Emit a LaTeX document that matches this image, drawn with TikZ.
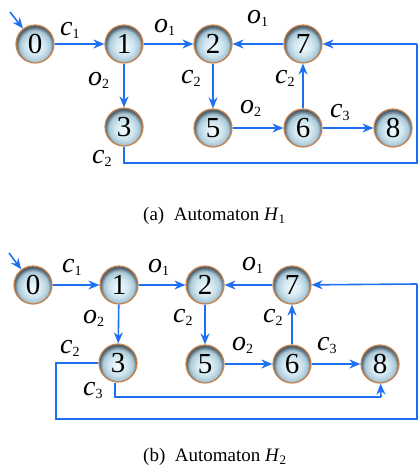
\documentclass[tikz,border=0pt]{standalone}
\usepackage{fontspec}
\setmainfont{Liberation Serif}
\usetikzlibrary{arrows.meta,shadings}
\definecolor{edgeblue}{RGB}{30,112,240}
\definecolor{ringbrown}{RGB}{200,132,76}
\definecolor{ballin}{RGB}{246,252,254}
\definecolor{ballmid}{RGB}{205,228,238}
\definecolor{ballmidb}{RGB}{172,200,214}
\definecolor{ballrim}{RGB}{112,136,150}
\definecolor{balledge}{RGB}{78,96,108}
\pgfdeclareradialshading{glassball}{\pgfpoint{0bp}{-4bp}}{%
  color(0bp)=(ballin); color(13bp)=(ballmid); color(20bp)=(ballmidb);
  color(23bp)=(ballrim); color(25bp)=(balledge); color(50bp)=(balledge)}
% event label: italic letter with a lowered upright index
\newcommand{\evlab}[2]{{\fontsize{28}{28}\selectfont\itshape #1}\raisebox{-3.5pt}{\fontsize{14}{14}\selectfont #2}}
\tikzset{
  x=1pt,y=-1pt,
  state/.style={circle,minimum size=38pt,inner sep=0pt,draw=ringbrown,line width=1.2pt,
    shading=glassball,font=\fontsize{29}{29}\selectfont},
  tr/.style={draw=edgeblue,line width=1.6pt,-{Stealth[length=11pt,width=9pt]}},
  ln/.style={draw=edgeblue,line width=1.6pt},
  lab/.style={anchor=base west,inner sep=0pt},
  captext/.style={anchor=base west,inner sep=0pt,font=\fontsize{19}{19}\selectfont}
}
\begin{document}
\begin{tikzpicture}
\useasboundingbox (0,0) rectangle (419,469);
% ---------- automaton H1 ----------
\node[state] (a0) at (35,44) {0};
\node[state] (a1) at (124,44) {1};
\node[state] (a2) at (213,44) {2};
\node[state] (a7) at (303,44) {7};
\node[state] (a3) at (124,127) {3};
\node[state] (a5) at (213,128) {5};
\node[state] (a6) at (303,128) {6};
\node[state] (a8) at (393,128) {8};
\coordinate (as) at (10,12);
\coordinate (ab1) at (124,163);
\coordinate (ab2) at (417,163);
\coordinate (ab3) at (417,44);
\draw[tr] (as) -- (a0);
\draw[tr] (a0) -- (a1);
\draw[tr] (a1) -- (a2);
\draw[tr] (a1) -- (a3);
\draw[tr] (a2) -- (a5);
\draw[tr] (a5) -- (a6);
\draw[tr] (a6) -- (a8);
\draw[tr] (a6) -- (a7);
\draw[tr] (a7) -- (a2);
\draw[ln] (a3) -- (ab1) -- (ab2) -- (ab3);
\draw[tr] (ab3) -- (a7);
\node[lab] (la1) at (60,35) {\evlab{c}{1}};
\node[lab] (la2) at (154,32) {\evlab{o}{1}};
\node[lab] (la3) at (88,85) {\evlab{o}{2}};
\node[lab] (la4) at (181,83) {\evlab{c}{2}};
\node[lab] (la5) at (92,163) {\evlab{c}{2}};
\node[lab] (la6) at (247,23) {\evlab{o}{1}};
\node[lab] (la7) at (275,83) {\evlab{c}{2}};
\node[lab] (la8) at (240,113) {\evlab{o}{2}};
\node[lab] (la9) at (330,117) {\evlab{c}{3}};
\node[captext] (capa) at (143,220) {(a)\ \ Automaton \textit{H}\raisebox{-3pt}{\fontsize{13}{13}\selectfont 1}};
% ---------- automaton H2 ----------
\node[state] (b0) at (33,285) {0};
\node[state] (b1) at (119,285) {1};
\node[state] (b2) at (205,285) {2};
\node[state] (b7) at (292,285) {7};
\node[state] (b3) at (118,363) {3};
\node[state] (b5) at (205,364) {5};
\node[state] (b6) at (292,364) {6};
\node[state] (b8) at (380,364) {8};
\coordinate (bs) at (9,253);
\coordinate (bl1) at (56,363);
\coordinate (bl2) at (56,419);
\coordinate (bl3) at (417,419);
\coordinate (bl4) at (417,284);
\coordinate (bm1) at (115,397);
\coordinate (bm2) at (381,397);
\draw[tr] (bs) -- (b0);
\draw[tr] (b0) -- (b1);
\draw[tr] (b1) -- (b2);
\draw[tr] (b1) -- (b3);
\draw[tr] (b2) -- (b5);
\draw[tr] (b5) -- (b6);
\draw[tr] (b6) -- (b8);
\draw[tr] (b6) -- (b7);
\draw[tr] (b7) -- (b2);
\draw[ln] (b3.west |- bl1) -- (bl1) -- (bl2) -- (bl3) -- (bl4);
\draw[tr] (bl4) -- (b7);
\draw[ln] (b3.south -| bm1) -- (bm1) -- (bm2);
\draw[tr] (bm2) -- (b8);
\node[lab] (lb1) at (62,272) {\evlab{c}{1}};
\node[lab] (lb2) at (148,272) {\evlab{o}{1}};
\node[lab] (lb3) at (83,323) {\evlab{o}{2}};
\node[lab] (lb4) at (173,322) {\evlab{c}{2}};
\node[lab] (lb5) at (60,353) {\evlab{c}{2}};
\node[lab] (lb6) at (83,395) {\evlab{c}{3}};
\node[lab] (lb7) at (242,270) {\evlab{o}{1}};
\node[lab] (lb8) at (263,322) {\evlab{c}{2}};
\node[lab] (lb9) at (232,350) {\evlab{o}{2}};
\node[lab] (lb10) at (317,350) {\evlab{c}{3}};
\node[captext] (capb) at (143,461) {(b)\ \ Automaton \textit{H}\raisebox{-3pt}{\fontsize{13}{13}\selectfont 2}};
\end{tikzpicture}
\end{document}
